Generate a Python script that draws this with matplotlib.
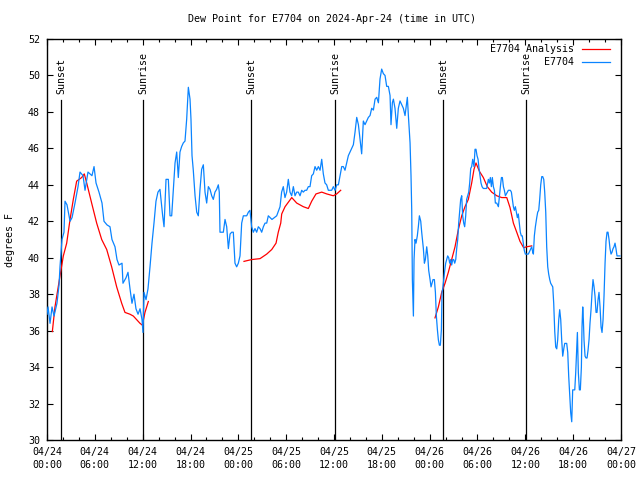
import matplotlib
matplotlib.use('Agg')
import matplotlib.pyplot as plt
import matplotlib.transforms as mtransforms
import numpy as np
from matplotlib.ticker import MultipleLocator, NullLocator

# ---------------- data (hours since 2024-04-24 00:00 UTC) ----------------
h1 = [0.00,0.13,0.38,0.63,0.88,1.25,1.51,1.63,1.88,2.13,2.26,2.51,2.89,3.14,3.51,3.89,4.14,4.52,4.77,5.14,5.64,5.90,6.15,6.52,6.90,7.15,7.53,7.90,8.15,8.53,8.78,9.03,9.41,9.53,9.91,10.16,10.41,10.66,10.91,11.16,11.42,11.67,11.92,12.04]
v1 = [36.9,37.3,36.4,37.3,36.8,37.5,38.5,39.5,41.0,41.4,43.1,42.9,42.0,42.2,43.0,43.9,44.7,44.5,43.7,44.7,44.5,45.0,44.1,43.6,43.0,42.0,41.8,41.7,41.0,40.6,39.9,39.6,39.7,38.6,38.9,39.2,38.3,37.5,38.0,37.2,36.9,37.2,36.6,35.9]

h2 = [12.17,12.42,12.67,12.92,13.17,13.42,13.67,13.92,14.17,14.51,14.68,14.93,15.22,15.43,15.64,15.85,16.06,16.27,16.47,16.68,16.89,17.10,17.31,17.52,17.73,17.94,18.06,18.19,18.35,18.57,18.78,18.98,19.19,19.40,19.61,19.82,20.03,20.24,20.45,20.66,20.86,21.07,21.28,21.49,21.61,21.70,21.91,22.12,22.33,22.54,22.75,22.96,23.17,23.37,23.58,23.79,24.00]
v2 = [38.1,37.7,38.3,39.5,40.8,41.9,43.1,43.6,43.75,42.3,41.7,44.3,44.3,42.3,42.3,43.75,45.2,45.8,44.4,45.8,46.1,46.3,46.4,47.6,49.35,48.7,47.6,45.6,44.8,43.4,42.5,42.3,43.75,44.85,45.1,43.6,43.0,43.9,43.75,43.4,43.2,43.6,43.75,44.0,43.6,41.4,41.4,41.4,42.1,41.7,40.5,41.3,41.4,41.4,39.7,39.5,39.7]

h3 = [24.21,24.42,24.63,24.84,25.05,25.26,25.46,25.67,25.88,26.09,26.30,26.51,26.72,26.93,27.14,27.35,27.56,27.76,28.22,28.81,29.23,29.43,29.64,29.85,30.06,30.27,30.48,30.69,30.90,31.11,31.32,31.52,31.74,31.95,32.15,32.36,32.57,32.78,32.99,33.20,33.41,33.62,33.83,34.04,34.25,34.46,34.66,34.87,35.08,35.29,35.50,35.71,35.92,36.13]
v3 = [40.1,41.9,42.3,42.3,42.3,42.5,42.6,41.7,41.4,41.6,41.4,41.7,41.6,41.4,41.7,41.9,41.9,42.3,42.1,42.3,42.8,43.6,43.9,43.3,43.6,44.3,43.6,43.4,43.9,43.4,43.6,43.6,43.4,43.7,43.6,43.7,43.7,43.9,43.9,44.5,44.6,45.0,44.8,45.0,44.8,45.4,44.6,44.1,44.0,43.7,43.7,43.7,43.9,43.7]

h4 = [36.34,36.55,36.76,36.97,37.17,37.38,37.59,37.80,38.01,38.22,38.43,38.64,38.85,39.06,39.26,39.47,39.68,39.89,40.10,40.31,40.52,40.73,40.94,41.15,41.36,41.57,41.77,41.98,42.19,42.40,42.61,42.82,43.03,43.15,43.32,43.45,43.65,43.87,44.07,44.28,44.49,44.70,44.91,45.12,45.20,45.33,45.54,45.66,45.75,45.83,45.96,46.04,46.16,46.29,46.45,46.58,46.71,46.88,47.00,47.21,47.34,47.46,47.63,47.76,47.88,48.05]
v4 = [44.0,44.0,44.5,45.0,45.0,44.8,45.2,45.6,45.8,46.0,46.2,46.9,47.7,47.3,46.5,45.7,47.5,47.3,47.5,47.7,47.8,48.2,48.1,48.7,48.8,48.5,49.8,50.35,50.1,50.0,49.4,49.4,48.9,47.3,48.5,48.7,48.2,47.1,48.2,48.6,48.4,48.2,47.8,48.5,48.8,47.8,46.3,44.5,42.6,38.8,36.8,39.9,41.0,40.8,41.2,41.7,42.3,42.0,41.4,40.5,39.7,39.9,40.6,40.1,39.3,38.8]

h5 = [48.17,48.30,48.42,48.59,48.72,48.84,48.97,49.09,49.22,49.34,49.47,49.55,49.64,49.76,49.89,50.01,50.14,50.26,50.39,50.51,50.64,50.76,50.89,51.01,51.14,51.27,51.39,51.52,51.64,51.77,51.89,52.02,52.14,52.27,52.39,52.52,52.64,52.77,52.90,53.02,53.15,53.27,53.40,53.56,53.69,53.81,53.94,54.07,54.19,54.32,54.44,54.57,54.73,54.94,55.15,55.36,55.49,55.61,55.74,55.86,55.99,56.12,56.24,56.41,56.62,56.75,56.87,57.00,57.12,57.25,57.37,57.50,57.62,57.75,57.87,58.00,58.12,58.25,58.37,58.50,58.62,58.75,58.87,59.00,59.12,59.25,59.37,59.50,59.62,59.75,59.87,60.00]
v5 = [38.4,38.6,38.8,38.8,38.1,36.8,36.05,35.5,35.2,35.2,36.05,38.1,38.3,38.8,39.3,39.7,39.9,40.1,40.0,39.7,39.9,39.6,39.9,39.9,39.7,39.9,40.5,41.0,41.9,42.6,43.2,43.4,42.3,41.9,41.7,42.3,43.2,43.4,43.6,44.1,44.9,45.0,45.4,45.0,45.95,45.95,45.6,45.4,44.9,44.5,44.1,43.9,43.8,43.8,43.8,44.3,44.1,44.4,43.9,44.4,43.9,43.7,43.0,43.0,42.8,43.4,43.9,44.4,44.4,43.9,43.7,43.4,43.5,43.6,43.7,43.7,43.7,43.6,43.2,42.8,42.6,42.8,42.5,42.2,42.4,41.9,41.4,41.2,41.2,40.8,40.4,40.2]

h6 = [60.17,60.38,60.59,60.80,60.93,61.01,61.13,61.26,61.43,61.55,61.68,61.80,61.93,62.06,62.18,62.31,62.43,62.56,62.68,62.81,62.93,63.06,63.18,63.31,63.44,63.56,63.69,63.81,63.94,64.06,64.19,64.31,64.44,64.56,64.69,64.82,64.94,65.07,65.19,65.32,65.44,65.57,65.69,65.82,65.94,66.07,66.20,66.32,66.45,66.53,66.65,66.78,66.90,67.03,67.11,67.20,67.28,67.36,67.49,67.61,67.74,67.86,67.99,68.11,68.24,68.37,68.49,68.62,68.74,68.87,68.99,69.12,69.24,69.37,69.50,69.62,69.75,69.87,70.00,70.12,70.25,70.37,70.50,70.62,70.75,70.87,71.00,71.12,71.25,71.37,71.50,71.62,71.87]
v6 = [40.2,40.2,40.4,40.6,40.3,40.2,41.2,41.7,42.2,42.5,42.6,43.2,44.0,44.45,44.45,44.3,43.6,42.5,40.6,39.5,39.1,38.8,38.6,38.5,38.4,37.5,35.95,35.1,35.0,35.5,36.6,37.15,36.6,35.5,34.6,35.0,35.3,35.3,35.3,34.8,33.5,32.4,31.5,31.0,32.75,32.75,32.75,33.7,35.1,35.9,33.7,32.75,32.75,34.0,36.2,37.3,36.6,35.5,34.6,34.5,34.5,34.9,35.5,36.4,37.15,38.1,38.8,38.4,37.9,37.0,37.0,37.7,38.1,37.3,36.2,35.9,36.6,37.9,39.7,40.9,41.4,41.4,41.0,40.5,40.2,40.3,40.5,40.6,40.8,40.5,40.1,40.1,40.1]

# analysis (red) segments
r1_h = [0.67,1.00,1.63,2.05,2.47,2.89,3.30,3.72,4.35,4.68,4.98,5.60,6.23,6.86,7.49,8.11,8.74,9.37,9.78,10.41,10.83,11.25,11.67,11.96,12.29,12.71]
r1_v = [35.95,37.3,39.0,40.1,40.8,42.1,43.2,44.2,44.4,44.6,44.1,43.0,41.9,41.0,40.45,39.5,38.4,37.5,37.0,36.9,36.8,36.6,36.4,36.3,37.0,37.6]
r2_h = [24.71,25.68,26.72,27.56,28.19,28.73,29.01,29.32,29.44,29.86,30.70,31.32,32.15,32.78,33.20,33.74,34.46,35.09,35.91,36.34,36.84]
r2_v = [39.8,39.9,39.95,40.2,40.45,40.8,41.4,41.9,42.4,42.8,43.3,43.0,42.8,42.7,43.1,43.5,43.6,43.5,43.4,43.5,43.7]
r3_h = [48.67,49.09,49.51,49.93,50.34,50.76,51.18,51.60,52.02,52.43,52.85,53.27,53.56,53.81,54.23,54.73,55.23,55.78,56.41,57.04,57.67,58.08,58.50,58.92,59.33,59.79,60.17,60.80]
r3_v = [36.7,37.3,38.1,38.6,39.2,39.9,40.6,41.55,42.3,42.8,43.2,44.1,44.85,45.2,44.75,44.4,43.9,43.6,43.4,43.3,43.3,42.75,41.9,41.4,40.9,40.55,40.6,40.65]

sun_times = [1.76, 12.04, 25.59, 36.13, 49.67, 60.08]
sun_labels = ["Sunset", "Sunrise", "Sunset", "Sunrise", "Sunset", "Sunrise"]

xtick_pos = [0, 6, 12, 18, 24, 30, 36, 42, 48, 54, 60, 66, 72]
xtick_labels = ["04/24\n00:00", "04/24\n06:00", "04/24\n12:00", "04/24\n18:00",
                "04/25\n00:00", "04/25\n06:00", "04/25\n12:00", "04/25\n18:00",
                "04/26\n00:00", "04/26\n06:00", "04/26\n12:00", "04/26\n18:00",
                "04/27\n00:00"]

title = "Dew Point for E7704 on 2024-Apr-24 (time in UTC)"
ylabel = "degrees F"
series_names = ["E7704 Analysis", "E7704"]

# ---------------- plotting ----------------
plt.rcParams['font.family'] = ['DejaVu Sans Mono']
FS = 7.2
BLUE = '#0a84ff'
RED = '#ff0000'

fig = plt.figure(figsize=(6.4, 4.8), dpi=100)
ax = fig.add_axes([47/640, 40/480, 574/640, 401/480])

blue_h = h1 + h2 + h3 + h4 + h5 + h6
blue_v = v1 + v2 + v3 + v4 + v5 + v6
nan = [np.nan]
red_h = r1_h + nan + r2_h + nan + r3_h
red_v = r1_v + nan + r2_v + nan + r3_v

ax.plot(red_h, red_v, color=RED, lw=0.9, label=series_names[0], zorder=3)
ax.plot(blue_h, blue_v, color=BLUE, lw=0.9, label=series_names[1], zorder=4)

trans = mtransforms.blended_transform_factory(ax.transData, ax.transAxes)
for t, lab in zip(sun_times, sun_labels):
    ax.axvline(t, ymin=0, ymax=0.848, color='black', lw=0.9, zorder=2)
    ax.text(t, 0.863, lab, transform=trans, rotation=90, ha='center', va='bottom',
            fontsize=FS)

ax.set_xlim(0, 72)
ax.set_ylim(30, 52)
ax.set_xticks(xtick_pos)
ax.set_xticklabels(xtick_labels, fontsize=FS, linespacing=1.35)
ax.xaxis.set_minor_locator(MultipleLocator(2))
ax.yaxis.set_major_locator(MultipleLocator(2))
ax.yaxis.set_minor_locator(NullLocator())
ax.tick_params(axis='y', labelsize=FS)
ax.tick_params(which='major', direction='in', length=4.3, width=0.8, top=True, right=True, pad=5)
ax.tick_params(which='minor', direction='in', length=2.2, width=0.8, top=True, right=True)
for sp in ax.spines.values():
    sp.set_linewidth(1.0)

leg = ax.legend(loc='upper right', bbox_to_anchor=(614/640, 1 - 40/480),
                bbox_transform=fig.transFigure, markerfirst=False, frameon=False,
                fontsize=FS, handlelength=2.8, handletextpad=0.8, borderaxespad=0,
                labelspacing=0.3)

fig.text(332/640, 1 - 19/480, title, ha='center', va='center', fontsize=FS)
fig.text(10/640, 1 - 240/480, ylabel, ha='center', va='center', rotation=90, fontsize=FS)

fig.savefig('out.png', dpi=100)
